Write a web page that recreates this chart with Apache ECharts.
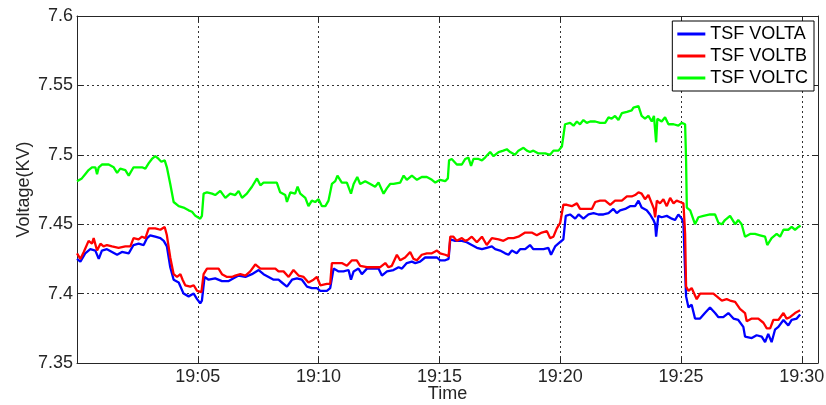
<!DOCTYPE html>
<html>
<head>
<meta charset="utf-8">
<script src="https://cdn.jsdelivr.net/npm/echarts@6/dist/echarts.min.js"></script>
<style>html,body{margin:0;padding:0;background:#fff;}#c{width:826px;height:405px;}</style>
</head>
<body>
<div id="c"></div>
<script>
// minutes after 19:00
const seriesNames = ['TSF VOLTA', 'TSF VOLTB', 'TSF VOLTC'];
const xTickLabels = ['19:05', '19:10', '19:15', '19:20', '19:25', '19:30'];

const tA = [0.00,0.14,0.34,0.55,0.76,0.90,1.03,1.24,1.45,1.66,1.86,2.14,2.34,2.55,2.76,2.90,3.03,3.24,3.45,3.59,3.72,3.86,4.00,4.21,4.41,4.62,4.83,4.97,5.10,5.17,5.28,5.45,5.72,6.00,6.28,6.48,6.69,6.97,7.24,7.52,
7.72,7.93,8.14,8.34,8.48,8.69,8.90,9.10,9.31,9.52,9.72,9.93,10.07,10.34,10.48,10.62,10.83,11.03,11.24,11.34,11.45,11.65,11.79,12.00,12.27,12.48,12.62,12.83,13.10,13.31,13.45,13.65,13.86,14.00,14.20,14.41,14.62,14.90,15.03,15.24,
15.38,15.45,15.65,15.93,16.13,16.34,16.55,16.76,16.96,17.17,17.31,17.51,17.72,17.86,18.00,18.20,18.34,18.55,18.75,18.89,19.10,19.31,19.51,19.62,19.79,19.99,20.13,20.23,20.41,20.62,20.76,20.96,21.17,21.38,21.58,21.79,22.00,22.20,22.34,22.48,22.69,22.89,23.10,
23.24,23.37,23.58,23.72,23.86,23.93,23.97,24.06,24.20,24.41,24.62,24.75,24.89,25.03,25.10,25.14,25.21,25.31,25.44,25.58,25.79,25.99,26.20,26.41,26.55,26.75,26.96,27.17,27.37,27.58,27.65,27.93,28.13,28.34,28.48,28.61,28.75,28.89,29.03,29.24,29.44,29.58,29.79,29.93];
const vA = [7.425,7.423,7.429,7.432,7.431,7.425,7.431,7.432,7.430,7.428,7.430,7.429,7.435,7.436,7.435,7.440,7.442,7.441,7.440,7.438,7.434,7.419,7.410,7.408,7.400,7.398,7.400,7.396,7.393,7.395,7.412,7.410,7.411,7.409,7.409,7.411,7.413,7.412,7.414,7.417,
7.414,7.412,7.410,7.410,7.408,7.405,7.410,7.411,7.410,7.405,7.404,7.404,7.402,7.402,7.404,7.418,7.416,7.416,7.417,7.410,7.416,7.418,7.414,7.418,7.418,7.418,7.413,7.416,7.417,7.419,7.418,7.422,7.423,7.422,7.423,7.426,7.426,7.426,7.424,7.424,
7.425,7.439,7.438,7.438,7.437,7.435,7.433,7.432,7.433,7.434,7.432,7.431,7.429,7.428,7.431,7.429,7.432,7.432,7.435,7.432,7.432,7.432,7.433,7.428,7.434,7.437,7.439,7.456,7.457,7.454,7.457,7.454,7.457,7.458,7.457,7.457,7.458,7.461,7.458,7.460,7.461,7.463,7.463,
7.467,7.462,7.460,7.457,7.453,7.450,7.441,7.456,7.455,7.456,7.454,7.453,7.457,7.454,7.451,7.430,7.398,7.390,7.392,7.382,7.382,7.386,7.390,7.386,7.383,7.383,7.386,7.382,7.381,7.376,7.369,7.368,7.370,7.369,7.365,7.371,7.365,7.374,7.376,7.381,7.377,7.381,7.382,7.385];

const tB = [0.00,0.14,0.28,0.48,0.62,0.69,0.83,0.97,1.10,1.24,1.45,1.72,2.00,2.21,2.34,2.55,2.69,2.83,2.97,3.24,3.45,3.63,3.72,3.86,4.00,4.14,4.28,4.37,4.48,4.69,4.83,4.97,5.15,5.24,5.38,5.59,5.86,6.00,6.21,6.41,6.55,6.76,6.97,7.17,7.38,7.59,
7.72,7.93,8.21,8.34,8.55,8.76,8.96,9.17,9.38,9.58,9.79,9.93,10.07,10.34,10.48,10.55,10.76,10.96,11.17,11.38,11.58,11.72,12.00,12.27,12.55,12.76,12.89,13.03,13.24,13.38,13.58,13.79,13.93,14.07,14.27,14.48,14.69,14.90,15.03,15.24,
15.38,15.45,15.58,15.72,15.93,16.07,16.20,16.34,16.55,16.76,16.96,17.17,17.45,17.65,17.86,18.07,18.27,18.55,18.82,19.03,19.24,19.45,19.58,19.72,19.86,20.00,20.13,20.27,20.48,20.69,20.82,21.03,21.31,21.45,21.65,21.86,22.07,22.27,22.55,22.76,22.96,
23.10,23.24,23.37,23.51,23.65,23.79,23.88,23.93,24.00,24.13,24.27,24.41,24.55,24.69,24.82,24.96,25.10,25.17,25.21,25.31,25.44,25.65,25.79,26.06,26.34,26.48,26.69,26.89,27.03,27.24,27.44,27.65,27.72,27.93,28.20,28.41,28.55,28.69,28.82,29.03,29.24,29.37,29.51,29.72,29.93];
const vB = [7.429,7.425,7.430,7.438,7.436,7.440,7.431,7.436,7.434,7.435,7.434,7.433,7.434,7.434,7.440,7.439,7.441,7.440,7.447,7.447,7.446,7.448,7.442,7.426,7.414,7.412,7.414,7.410,7.406,7.405,7.406,7.402,7.401,7.414,7.418,7.418,7.418,7.414,7.412,7.412,7.413,7.414,7.413,7.416,7.421,7.418,
7.418,7.418,7.418,7.416,7.416,7.412,7.417,7.413,7.412,7.408,7.410,7.412,7.406,7.407,7.407,7.422,7.422,7.422,7.420,7.424,7.424,7.420,7.419,7.419,7.419,7.422,7.419,7.420,7.428,7.424,7.426,7.430,7.425,7.424,7.428,7.429,7.429,7.431,7.429,7.428,
7.427,7.441,7.441,7.438,7.440,7.438,7.439,7.441,7.437,7.441,7.435,7.440,7.439,7.438,7.440,7.440,7.441,7.444,7.444,7.442,7.444,7.445,7.440,7.441,7.447,7.451,7.464,7.464,7.463,7.465,7.461,7.461,7.461,7.466,7.467,7.467,7.464,7.467,7.467,7.470,7.470,
7.471,7.473,7.472,7.468,7.471,7.465,7.461,7.455,7.467,7.465,7.468,7.463,7.469,7.465,7.467,7.466,7.465,7.443,7.405,7.402,7.404,7.396,7.400,7.400,7.400,7.398,7.395,7.396,7.395,7.394,7.389,7.386,7.380,7.382,7.382,7.379,7.375,7.375,7.381,7.381,7.386,7.382,7.383,7.386,7.388];

const tC = [0.00,0.20,0.34,0.48,0.62,0.76,0.83,0.90,1.03,1.31,1.52,1.66,1.79,2.00,2.14,2.34,2.69,2.83,2.97,3.10,3.24,3.38,3.49,3.63,3.72,3.86,4.00,4.21,4.41,4.62,4.76,4.90,5.10,5.17,5.24,5.38,5.59,5.72,5.93,6.14,6.34,6.55,6.69,6.83,7.03,7.24,7.45,7.59,
7.72,7.86,8.00,8.27,8.41,8.62,8.69,8.83,9.03,9.13,9.24,9.45,9.58,9.72,9.86,10.00,10.14,10.28,10.41,10.55,10.69,10.78,10.96,11.17,11.34,11.45,11.60,11.72,11.93,12.14,12.34,12.48,12.69,12.83,12.96,13.10,13.38,13.52,13.65,13.86,14.07,14.27,14.48,14.69,14.83,15.03,15.24,
15.35,15.40,15.51,15.72,15.93,16.07,16.20,16.31,16.41,16.62,16.76,16.89,17.10,17.24,17.45,17.65,17.79,17.93,18.13,18.27,18.48,18.62,18.75,18.89,19.10,19.38,19.58,19.72,19.93,20.07,20.20,20.41,20.55,20.69,20.82,20.96,21.10,21.24,21.45,21.65,21.86,22.00,22.13,22.27,22.41,22.55,22.76,22.96,
23.03,23.24,23.37,23.51,23.65,23.79,23.88,23.97,24.02,24.20,24.34,24.48,24.69,24.89,25.03,25.17,25.21,25.24,25.38,25.58,25.72,25.93,26.20,26.41,26.55,26.69,26.82,27.03,27.24,27.37,27.51,27.65,27.86,28.06,28.27,28.48,28.57,28.75,28.96,29.10,29.24,29.44,29.58,29.72,29.86,29.95];
const vC = [7.481,7.483,7.486,7.489,7.491,7.491,7.486,7.491,7.493,7.493,7.491,7.487,7.490,7.489,7.485,7.491,7.491,7.490,7.494,7.497,7.499,7.497,7.495,7.496,7.491,7.479,7.466,7.463,7.462,7.460,7.459,7.456,7.454,7.456,7.472,7.473,7.472,7.471,7.474,7.469,7.472,7.471,7.474,7.469,7.472,7.477,7.483,7.478,
7.480,7.480,7.480,7.480,7.473,7.471,7.466,7.473,7.472,7.477,7.472,7.469,7.463,7.467,7.466,7.468,7.463,7.463,7.467,7.479,7.481,7.485,7.480,7.480,7.472,7.479,7.484,7.479,7.481,7.479,7.477,7.480,7.472,7.476,7.479,7.479,7.480,7.485,7.482,7.485,7.482,7.484,7.484,7.482,7.480,7.482,7.481,
7.483,7.496,7.497,7.493,7.493,7.497,7.498,7.492,7.497,7.497,7.496,7.498,7.502,7.499,7.502,7.503,7.504,7.502,7.500,7.503,7.505,7.503,7.502,7.503,7.501,7.501,7.500,7.503,7.503,7.506,7.522,7.523,7.521,7.524,7.522,7.525,7.523,7.524,7.524,7.523,7.523,7.527,7.526,7.528,7.525,7.530,7.531,7.532,
7.534,7.535,7.528,7.526,7.528,7.524,7.528,7.509,7.526,7.524,7.527,7.522,7.522,7.521,7.523,7.522,7.496,7.462,7.460,7.450,7.455,7.456,7.457,7.457,7.451,7.450,7.453,7.456,7.450,7.453,7.450,7.441,7.443,7.443,7.442,7.441,7.435,7.440,7.443,7.441,7.446,7.446,7.448,7.446,7.448,7.449];

const colors = ['#0000ff', '#ff0000', '#00ff00'];
const zip = (t, v) => t.map((x, i) => [x, v[i]]);
const seriesData = [zip(tA, vA), zip(tB, vB), zip(tC, vC)];

const FONT = '"Liberation Sans", Arial, sans-serif';
const axisCol = '#262626';
const gridLine = { show: true, lineStyle: { color: '#333', type: [2, 3], width: 1 } };

const chart = echarts.init(document.getElementById('c'), null, { renderer: 'canvas' });
chart.setOption({
  animation: false,
  backgroundColor: '#fff',
  textStyle: { fontFamily: FONT },
  grid: { left: 77, right: 8, top: 16, bottom: 42, containLabel: false, outerBoundsMode: 'none' },
  legend: {
    data: seriesNames,
    orient: 'vertical',
    right: 12,
    top: 21,
    backgroundColor: '#fff',
    borderColor: '#000',
    borderWidth: 1,
    padding: [4, 6, 4, 5],
    itemWidth: 28,
    itemHeight: 3,
    itemGap: 4,
    icon: 'rect',
    textStyle: { fontSize: 18, color: '#000', fontFamily: FONT, lineHeight: 18 }
  },
  xAxis: [{
    type: 'value', min: 0, max: 30.67, interval: 5, position: 'bottom',
    axisLine: { show: true, onZero: false, lineStyle: { color: axisCol } },
    axisTick: { show: true, inside: true, length: 6, lineStyle: { color: axisCol } },
    axisLabel: {
      fontSize: 18, color: axisCol, margin: 5, fontFamily: FONT,
      formatter: v => {
        const k = Math.round(v / 5) - 1;
        return (Math.abs(v - Math.round(v / 5) * 5) < 1e-6 && k >= 0 && k < xTickLabels.length) ? xTickLabels[k] : '';
      }
    },
    splitLine: gridLine,
    name: 'Time', nameLocation: 'middle', nameGap: 22, nameMoveOverlap: false,
    nameTextStyle: { fontSize: 18, color: axisCol, fontFamily: FONT }
  }, {
    type: 'value', min: 0, max: 30.67, interval: 5, position: 'top',
    axisLine: { show: true, onZero: false, lineStyle: { color: axisCol } },
    axisTick: { show: true, inside: true, length: 6, lineStyle: { color: axisCol } },
    axisLabel: { show: false }, splitLine: { show: false }
  }],
  yAxis: [{
    type: 'value', min: 7.35, max: 7.6, interval: 0.05, position: 'left',
    axisLine: { show: true, onZero: false, lineStyle: { color: axisCol } },
    axisTick: { show: true, inside: true, length: 6, lineStyle: { color: axisCol } },
    axisLabel: { fontSize: 18, color: axisCol, margin: 4, fontFamily: FONT, formatter: v => String(parseFloat(v.toFixed(2))) },
    splitLine: gridLine,
    name: 'Voltage(KV)', nameLocation: 'middle', nameGap: 44, nameMoveOverlap: false,
    nameTextStyle: { fontSize: 18, color: axisCol, fontFamily: FONT }
  }, {
    type: 'value', min: 7.35, max: 7.6, interval: 0.05, position: 'right',
    axisLine: { show: true, onZero: false, lineStyle: { color: axisCol } },
    axisTick: { show: true, inside: true, length: 6, lineStyle: { color: axisCol } },
    axisLabel: { show: false }, splitLine: { show: false }
  }],
  series: seriesNames.map((n, i) => ({
    name: n, type: 'line', xAxisIndex: 0, yAxisIndex: 0,
    data: seriesData[i], showSymbol: false, symbol: 'none',
    color: colors[i],
    lineStyle: { color: colors[i], width: 2.3 },
    emphasis: { disabled: true }
  }))
});
</script>
</body>
</html>
